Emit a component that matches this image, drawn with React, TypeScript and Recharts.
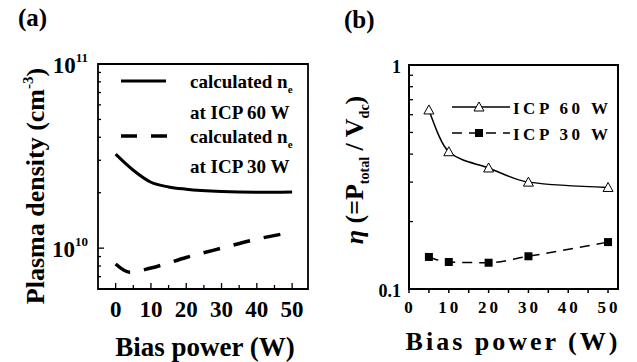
import React from 'react';
import { LineChart, Line, XAxis, YAxis, ReferenceArea, Legend, Label } from 'recharts';

// panel (a): calculated plasma density vs bias power
const powerA60 = [0, 5, 10, 15, 20, 30, 40, 50];
const densityA60 = [3.24e10, 2.65e10, 2.28e10, 2.15e10, 2.09e10, 2.03e10, 2.01e10, 2.02e10];
const powerA30 = [0, 4, 10, 20, 30, 40, 50];
const densityA30 = [8.2e9, 7.4e9, 7.8e9, 8.9e9, 1.0e10, 1.12e10, 1.22e10];

// panel (b): eta = P_total / V_dc
const powerB = [5, 10, 20, 30, 50];
const etaB60 = [0.63, 0.41, 0.347, 0.3, 0.284];
const etaB30 = [0.139, 0.132, 0.131, 0.14, 0.162];

const xTicks = [0, 5, 10, 15, 20, 25, 30, 35, 40, 45, 50];
const xMajor = [0, 10, 20, 30, 40, 50];
const yTicksA = [7e9, 8e9, 9e9, 1e10, 2e10, 3e10, 4e10, 5e10, 6e10, 7e10, 8e10, 9e10, 1e11];
const yMajorA = [1e10, 1e11];
const yTicksB = [0.1, 0.2, 0.3, 0.4, 0.5, 0.6, 0.7, 0.8, 0.9, 1];
const yMajorB = [0.1, 1];

const FONT = 'Liberation Serif, Tinos, Times, DejaVu Serif, serif';

const dataA60 = powerA60.map((p, i) => ({ p, v: densityA60[i] }));
const dataA30 = powerA30.map((p, i) => ({ p, v: densityA30[i] }));
const dataB60 = powerB.map((p, i) => ({ p, v: etaB60[i] }));
const dataB30 = powerB.map((p, i) => ({ p, v: etaB30[i] }));

const YTickA = (props: any) => {
  const { x, y, payload } = props;
  const major = yMajorA.includes(payload.value);
  const exp = Math.round(Math.log10(payload.value));
  return (
    <g>
      <line x1={x} x2={x + (major ? 6 : 3)} y1={y} y2={y} stroke="#000" strokeWidth={1.3} />
      {major && (
        <text x={x - 10} y={y + 9} textAnchor="end" style={{ fontFamily: FONT }} fontWeight="bold" fontSize={23} fill="#000">
          10<tspan dy={-11} fontSize={13}>{exp}</tspan>
        </text>
      )}
    </g>
  );
};

const XTickA = (props: any) => {
  const { x, y, payload } = props;
  const major = xMajor.includes(payload.value);
  return (
    <g>
      <line x1={x} x2={x} y1={y} y2={y - (major ? 6 : 4)} stroke="#000" strokeWidth={1.3} />
      {major && (
        <text x={x} y={y + 28} textAnchor="middle" style={{ fontFamily: FONT }} fontWeight="bold" fontSize={23} fill="#000">
          {payload.value}
        </text>
      )}
    </g>
  );
};

const YTickB = (props: any) => {
  const { x, y, payload } = props;
  const major = yMajorB.includes(payload.value);
  return (
    <g>
      <line x1={x} x2={x + (major ? 6 : 4)} y1={y} y2={y} stroke="#000" strokeWidth={1.3} />
      {major && (
        <text x={x - 8} y={y + 8} textAnchor="end" style={{ fontFamily: FONT }} fontWeight="bold" fontSize={18} fill="#000">
          {payload.value}
        </text>
      )}
    </g>
  );
};

const XTickB = (props: any) => {
  const { x, y, payload } = props;
  const major = xMajor.includes(payload.value);
  return (
    <g>
      <line x1={x} x2={x} y1={y} y2={y + 4} stroke="#000" strokeWidth={1.5} />
      {major && (
        <text x={x + 1} y={y + 24} textAnchor="middle" style={{ fontFamily: FONT }} fontWeight="bold" fontSize={17} letterSpacing={3} fill="#000">
          {payload.value}
        </text>
      )}
    </g>
  );
};

const Triangle = (props: any) => {
  const { cx, cy } = props;
  if (cx == null || cy == null) return null;
  return (
    <polygon
      points={`${cx},${cy - 5} ${cx - 5},${cy + 4} ${cx + 5},${cy + 4}`}
      fill="#fff"
      stroke="#000"
      strokeWidth={1}
    />
  );
};

const Square = (props: any) => {
  const { cx, cy } = props;
  if (cx == null || cy == null) return null;
  return <rect x={cx - 4} y={cy - 4} width={8} height={8} fill="#000" />;
};

const LegendA = () => (
  <svg width={200} height={125} style={{ display: 'block' }}>
    <g style={{ fontFamily: FONT }} fontWeight="bold" fontSize={19} fill="#000">
      <line x1={11} x2={56} y1={21} y2={21} stroke="#000" strokeWidth={3} />
      <text x={80} y={28}>
        calculated n<tspan dy={5} fontSize={11}>e</tspan>
      </text>
      <text x={80} y={59}>at ICP 60 W</text>
      <line x1={11} x2={57} y1={76} y2={76} stroke="#000" strokeWidth={3.5} strokeDasharray="16 14" />
      <text x={80} y={83}>
        calculated n<tspan dy={5} fontSize={11}>e</tspan>
      </text>
      <text x={80} y={113}>at ICP 30 W</text>
    </g>
  </svg>
);

const LegendB = () => (
  <svg width={180} height={52} style={{ display: 'block' }}>
    <g style={{ fontFamily: FONT }} fontWeight="bold" fontSize={17} letterSpacing={3.5} fill="#000">
      <line x1={7} x2={65} y1={12} y2={12} stroke="#000" strokeWidth={1.5} />
      <Triangle cx={34} cy={12} />
      <text x={68} y={19}>ICP 60 W</text>
      <line x1={7} x2={65} y1={38} y2={38} stroke="#000" strokeWidth={1.5} strokeDasharray="10 7" />
      <Square cx={34} cy={38} />
      <text x={68} y={45}>ICP 30 W</text>
    </g>
  </svg>
);

const ChartA = () => (
  <LineChart width={317} height={362} margin={{ top: 64, right: 9, bottom: 43, left: 38 }}>
    <XAxis
      dataKey="p"
      type="number"
      domain={[-5, 54.5]}
      ticks={xTicks}
      interval={0}
      allowDataOverflow
      axisLine={false}
      tickLine={false}
      tickSize={0}
      tickMargin={0}
      height={30}
      tick={<XTickA />}
    >
      <Label
        content={() => (
          <text x={205} y={356} textAnchor="middle" style={{ fontFamily: FONT }} fontWeight="bold" fontSize={27} fill="#000">
            Bias power (W)
          </text>
        )}
      />
    </XAxis>
    <YAxis
      dataKey="v"
      type="number"
      scale="log"
      domain={[6e9, 1e11]}
      ticks={yTicksA}
      interval={0}
      allowDataOverflow
      axisLine={false}
      tickLine={false}
      tickSize={0}
      tickMargin={0}
      width={60}
      tick={<YTickA />}
    >
      <Label
        content={() => (
          <text
            x={44}
            y={186}
            transform="rotate(-90 44 186)"
            textAnchor="middle"
            style={{ fontFamily: FONT }}
            fontWeight="bold"
            fontSize={26}
            fill="#000"
          >
            Plasma density (cm<tspan dy={-11} fontSize={15}>-3</tspan>
            <tspan dy={11}>)</tspan>
          </text>
        )}
      />
    </YAxis>
    <Legend
      layout="vertical"
      align="center"
      verticalAlign="middle"
      content={<LegendA />}
      wrapperStyle={{ left: 110, top: 60, width: 200, height: 125 }}
    />
    <Line data={dataA60} dataKey="v" type="monotone" stroke="#000" strokeWidth={3} dot={false} isAnimationActive={false} />
    <Line
      data={dataA30}
      dataKey="v"
      type="monotone"
      stroke="#000"
      strokeWidth={3.5}
      strokeDasharray="17 14"
      dot={false}
      isAnimationActive={false}
    />
    <ReferenceArea x1={-5} x2={54.5} y1={6e9} y2={1e11} fill="none" fillOpacity={0} stroke="#000" strokeWidth={1.8} />
  </LineChart>
);

const ChartB = () => (
  <LineChart width={320} height={362} margin={{ top: 65, right: 19, bottom: 43, left: 32 }}>
    <XAxis
      dataKey="p"
      type="number"
      domain={[0, 52.5]}
      ticks={xTicks}
      interval={0}
      allowDataOverflow
      axisLine={false}
      tickLine={false}
      tickSize={0}
      tickMargin={0}
      height={30}
      tick={<XTickB />}
    >
      <Label
        content={() => (
          <text
            x={196}
            y={350}
            textAnchor="middle"
            style={{ fontFamily: FONT }}
            fontWeight="bold"
            fontSize={26}
            letterSpacing={3}
            fill="#000"
          >
            Bias power (W)
          </text>
        )}
      />
    </XAxis>
    <YAxis
      dataKey="v"
      type="number"
      scale="log"
      domain={[0.1, 1]}
      ticks={yTicksB}
      interval={0}
      allowDataOverflow
      axisLine={false}
      tickLine={false}
      tickSize={0}
      tickMargin={0}
      width={60}
      tick={<YTickB />}
    >
      <Label
        content={() => (
          <text
            x={46}
            y={170}
            transform="rotate(-90 46 170)"
            textAnchor="middle"
            style={{ fontFamily: FONT }}
            fontWeight="bold"
            fontSize={26}
            fill="#000"
          >
            <tspan fontStyle="italic">η</tspan>
            {'  (=P'}
            <tspan dy={6} fontSize={14}>total</tspan>
            <tspan dy={-6}>{' / V'}</tspan>
            <tspan dy={6} fontSize={14}>dc</tspan>
            <tspan dy={-6}>)</tspan>
          </text>
        )}
      />
    </YAxis>
    <Legend
      layout="vertical"
      align="center"
      verticalAlign="middle"
      content={<LegendB />}
      wrapperStyle={{ left: 128, top: 95, width: 180, height: 52 }}
    />
    <Line
      data={dataB60}
      dataKey="v"
      type="monotone"
      stroke="#000"
      strokeWidth={1.5}
      dot={(p: any) => <Triangle key={`t${p.index}`} {...p} />}
      isAnimationActive={false}
    />
    <Line
      data={dataB30}
      dataKey="v"
      type="monotone"
      stroke="#000"
      strokeWidth={1.5}
      strokeDasharray="10 7"
      dot={(p: any) => <Square key={`s${p.index}`} {...p} />}
      isAnimationActive={false}
    />
    <ReferenceArea x1={0} x2={52.5} y1={0.1} y2={1} fill="none" fillOpacity={0} stroke="#000" strokeWidth={2} />
  </LineChart>
);

const titleStyle: React.CSSProperties = {
  position: 'absolute',
  fontFamily: FONT,
  fontWeight: 'bold',
  fontSize: 25,
  lineHeight: '25px',
  color: '#000',
};

export default function App() {
  return (
    <div style={{ position: 'absolute', left: 0, top: 0, width: 637, height: 362, background: '#fff', overflow: 'hidden' }}>
      <div style={{ position: 'absolute', left: 0, top: 0 }}>
        <ChartA />
      </div>
      <div style={{ position: 'absolute', left: 317, top: 0 }}>
        <ChartB />
      </div>
      <div style={{ ...titleStyle, left: 18, top: 5 }}>(a)</div>
      <div style={{ ...titleStyle, left: 344, top: 7 }}>(b)</div>
    </div>
  );
}
